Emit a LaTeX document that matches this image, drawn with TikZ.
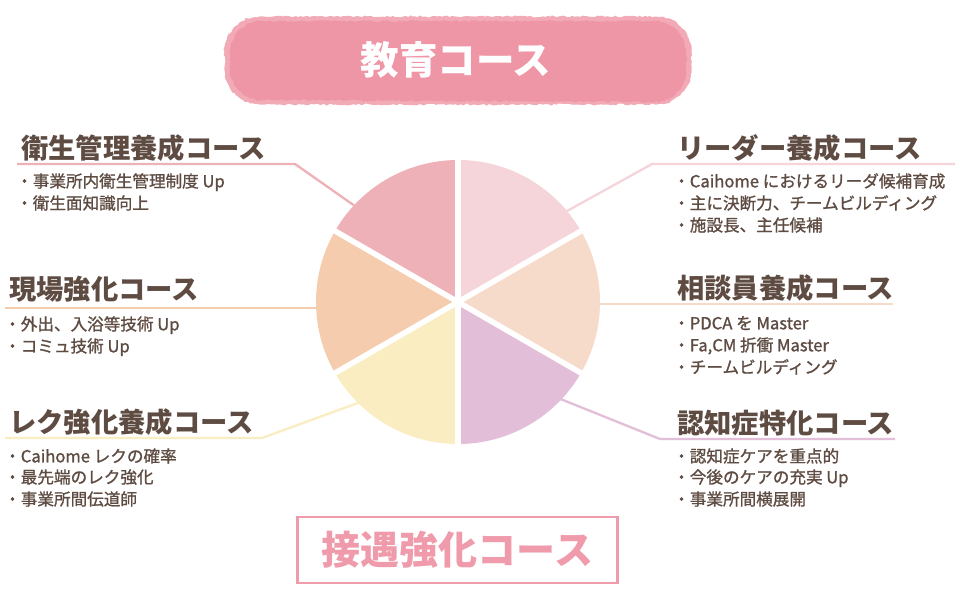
\documentclass[tikz,border=0pt]{standalone}
\usepackage{fontspec}
\setmainfont{Noto Sans CJK JP}
\newfontfamily\jpmed{Noto Sans CJK JP}[FakeBold=1.1]
\usetikzlibrary{decorations.pathmorphing}
\definecolor{txt}{HTML}{5E4B42}
\definecolor{cTL}{HTML}{EEB1B8}
\definecolor{cTR}{HTML}{F5D5DA}
\definecolor{cR}{HTML}{F7DBCA}
\definecolor{cBR}{HTML}{E3BED8}
\definecolor{cBL}{HTML}{FAEDC1}
\definecolor{cL}{HTML}{F5CCAE}
\definecolor{banner}{HTML}{EE96A6}
\definecolor{bannerlt}{HTML}{F2AAB6}
\definecolor{boxpink}{HTML}{EF9BAB}
\begin{document}
\begin{tikzpicture}[x=1pt,y=-1pt,
  head/.style={anchor=west, inner sep=0pt, yshift=-8pt, text=txt, text height=0.88em, text depth=0.12em, font=\fontsize{27.3}{27.3}\selectfont\bfseries},
  item/.style={anchor=west, inner sep=0pt, yshift=-3.5pt, text=txt, text height=0.88em, text depth=0.12em, font=\jpmed\fontsize{16.6}{16.6}\selectfont},
  link/.style={line width=2.3pt},
  rough/.style={decorate, decoration={random steps, segment length=2.5pt, amplitude=0.9pt}}]
\useasboundingbox[fill=white] (0,0) rectangle (960,600);
\pgfmathsetseed{11}
% top banner
\def\bannerpath{(260,18) -- (656,18) arc[start angle=90,end angle=0,radius=34pt] -- (690,69) arc[start angle=0,end angle=-90,radius=34pt] -- (260,103) arc[start angle=270,end angle=180,radius=34pt] -- (226,52) arc[start angle=180,end angle=90,radius=34pt] -- cycle}
\draw[bannerlt, line width=3pt, rough, fill=bannerlt] \bannerpath;
\fill[banner, rough] (262,21) -- (654,21) arc[start angle=90,end angle=0,radius=32pt] -- (686,70) arc[start angle=0,end angle=-90,radius=32pt] -- (262,100) arc[start angle=270,end angle=180,radius=32pt] -- (230,53) arc[start angle=180,end angle=90,radius=32pt] -- cycle;
\node[text=white, inner sep=0pt, font=\fontsize{38.5}{38.5}\selectfont\bfseries] (edu) at (456,60) {教育コース};

% connector coordinates
\coordinate (pc) at (458,302);
\coordinate (eA) at (17,164);   \coordinate (eB) at (295,164);  \coordinate (eC) at (362,211);
\coordinate (lA) at (955,164);  \coordinate (lB) at (652,164);  \coordinate (lC) at (558,216);
\coordinate (gA) at (5,308);    \coordinate (gB) at (330,308);
\coordinate (sA) at (893,304);  \coordinate (sB) at (586,304);
\coordinate (rA) at (5,438);    \coordinate (rB) at (262,438);  \coordinate (rC) at (366,400);
\coordinate (nA) at (895,439);  \coordinate (nB) at (660,439);  \coordinate (nC) at (553,396);
\draw[link, cTL] (eA) -- (eB) -- (eC);
\draw[link, cTR] (lA) -- (lB) -- (lC);
\draw[link, cL] (gA) -- (gB);
\draw[link, cR] (sA) -- (sB);
\draw[link, cBL] (rA) -- (rB) -- (rC);
\draw[link, cBR] (nA) -- (nB) -- (nC);

% pie
\begin{scope}[shift={(pc)}]
\fill[cTR] (0,0) -- (90:142pt) arc[start angle=90,end angle=30,radius=142pt] -- cycle;
\fill[cR]  (0,0) -- (30:142pt) arc[start angle=30,end angle=-30,radius=142pt] -- cycle;
\fill[cBR] (0,0) -- (-30:142pt) arc[start angle=-30,end angle=-90,radius=142pt] -- cycle;
\fill[cBL] (0,0) -- (-90:142pt) arc[start angle=-90,end angle=-150,radius=142pt] -- cycle;
\fill[cL]  (0,0) -- (-150:142pt) arc[start angle=-150,end angle=-210,radius=142pt] -- cycle;
\fill[cTL] (0,0) -- (150:142pt) arc[start angle=150,end angle=90,radius=142pt] -- cycle;
\foreach \a in {90,30,-30,-90,-150,150} \draw[white, line width=5.5pt] (0,0) -- (\a:146pt);
\end{scope}

% left texts
\node[head] (h1) at (21,147) {衛生管理養成コース};
\node[item] (h1a) at (16,180) {・事業所内衛生管理制度 Up};
\node[item] (h1b) at (16,202) {・衛生面知識向上};

\node[head] (h2) at (9,288) {現場強化コース};
\node[item] (h2a) at (4,323) {・外出、入浴等技術 Up};
\node[item] (h2b) at (4,345) {・コミュ技術 Up};

\node[head] (h3) at (9,421) {レク強化養成コース};
\node[item] (h3a) at (4,455) {・Caihome レクの確率};
\node[item] (h3b) at (4,476) {・最先端のレク強化};
\node[item] (h3c) at (4,498) {・事業所間伝道師};

% right texts
\node[head] (h4) at (677,147) {リーダー養成コース};
\node[item] (h4a) at (673,180) {・Caihome におけるリーダ候補育成};
\node[item] (h4b) at (673,202) {・主に決断力、チームビルディング};
\node[item] (h4c) at (673,224) {・施設長、主任候補};

\node[head] (h5) at (677,287) {相談員養成コース};
\node[item] (h5a) at (673,322) {・PDCA を Master};
\node[item] (h5b) at (673,344) {・Fa,CM 折衝 Master};
\node[item] (h5c) at (673,366) {・チームビルディング};

\node[head] (h6) at (677,422) {認知症特化コース};
\node[item] (h6a) at (673,455) {・認知症ケアを重点的};
\node[item] (h6b) at (673,476) {・今後のケアの充実 Up};
\node[item] (h6c) at (673,498) {・事業所間横展開};

% bottom box
\node[draw=boxpink, line width=2.2pt, text=boxpink, minimum width=320pt, minimum height=66pt, inner sep=0pt, font=\fontsize{39}{39}\selectfont\bfseries] (ses) at (457.5,550) {接遇強化コース};
\end{tikzpicture}
\end{document}
